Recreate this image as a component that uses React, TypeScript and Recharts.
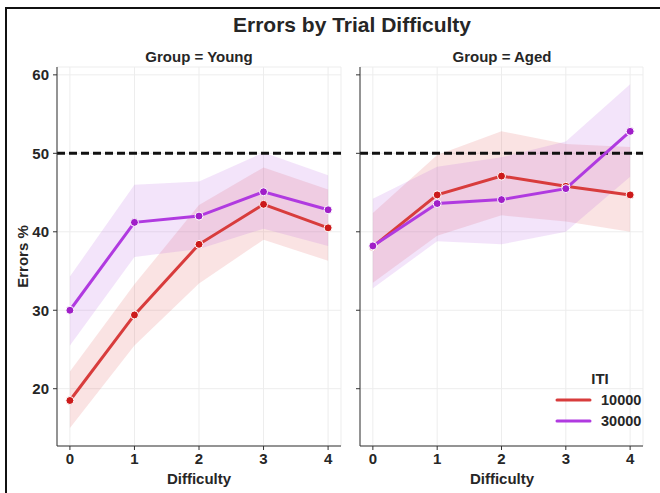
import { ComposedChart, Area, Line, XAxis, YAxis, CartesianGrid, ReferenceLine } from 'recharts';

// x categories and y ticks
const difficulty = [0, 1, 2, 3, 4];
const yTicks = [20, 30, 40, 50, 60];
const chance = 50;

// Group = Young
const youngRed = [18.5, 29.4, 38.4, 43.5, 40.5];
const youngRedLow = [15.0, 25.5, 33.4, 39.0, 36.3];
const youngRedHigh = [22.2, 33.3, 43.4, 48.2, 45.4];
const youngPurple = [30.0, 41.2, 42.0, 45.1, 42.8];
const youngPurpleLow = [25.5, 36.8, 37.8, 40.4, 38.2];
const youngPurpleHigh = [34.3, 46.0, 46.4, 50.1, 47.2];

// Group = Aged
const agedRed = [38.1, 44.7, 47.1, 45.8, 44.7];
const agedRedLow = [33.5, 39.5, 42.1, 41.3, 40.0];
const agedRedHigh = [42.4, 49.8, 52.8, 51.2, 50.8];
const agedPurple = [38.2, 43.6, 44.1, 45.5, 52.8];
const agedPurpleLow = [32.8, 38.8, 38.4, 40.0, 47.0];
const agedPurpleHigh = [44.2, 48.3, 49.5, 51.5, 58.8];

const RED = '#d83c3c';
const RED_DOT = '#cc1a1a';
const PURPLE = '#b03ae0';
const PURPLE_DOT = '#a01ec8';
const FONT = '"Liberation Sans", Arial, sans-serif';
const TEXT = '#262626';

function buildRows(
    red: number[], redLow: number[], redHigh: number[],
    purple: number[], purpleLow: number[], purpleHigh: number[]
) {
    return difficulty.map((d, i) => ({
        difficulty: d,
        red: red[i],
        redBand: [redLow[i], redHigh[i]],
        purple: purple[i],
        purpleBand: [purpleLow[i], purpleHigh[i]],
    }));
}

const youngRows = buildRows(youngRed, youngRedLow, youngRedHigh, youngPurple, youngPurpleLow, youngPurpleHigh);
const agedRows = buildRows(agedRed, agedRedLow, agedRedHigh, agedPurple, agedPurpleLow, agedPurpleHigh);

interface PanelProps {
    rows: ReturnType<typeof buildRows>;
    left: number;
    width: number;
    margin: { top: number; right: number; bottom: number; left: number };
    yWidth: number;
    showYLabels: boolean;
}

function Panel({ rows, left, width, margin, yWidth, showYLabels }: PanelProps) {
    const tickStyle = { fill: TEXT, fontSize: 15, fontWeight: 700, fontFamily: FONT };
    return (
        <div style={{ position: 'absolute', left, top: 0 }}>
            <ComposedChart width={width} height={493} data={rows} margin={margin}>
                <CartesianGrid stroke="#ededed" strokeWidth={1} />
                <XAxis
                    dataKey="difficulty"
                    type="number"
                    domain={[-0.2, 4.2]}
                    ticks={difficulty}
                    allowDataOverflow
                    height={30}
                    stroke="#333"
                    tickSize={4}
                    tickMargin={3}
                    tick={tickStyle}
                />
                <YAxis
                    type="number"
                    domain={[12.7, 61]}
                    ticks={yTicks}
                    allowDataOverflow
                    width={yWidth}
                    stroke="#333"
                    tickSize={4}
                    tickMargin={4}
                    tick={tickStyle}
                    tickFormatter={(v) => (showYLabels ? String(v) : '')}
                />
                <Area
                    type="linear"
                    dataKey="redBand"
                    stroke="none"
                    fill="#e05a5a"
                    fillOpacity={0.17}
                    isAnimationActive={false}
                    activeDot={false}
                />
                <Area
                    type="linear"
                    dataKey="purpleBand"
                    stroke="none"
                    fill="#b860e0"
                    fillOpacity={0.17}
                    isAnimationActive={false}
                    activeDot={false}
                />
                <ReferenceLine y={chance} stroke="#111" strokeWidth={3} strokeDasharray="8 4" />
                <Line
                    type="linear"
                    dataKey="red"
                    stroke={RED}
                    strokeWidth={3}
                    dot={{ r: 4, fill: RED_DOT, stroke: '#fff', strokeWidth: 1 }}
                    isAnimationActive={false}
                />
                <Line
                    type="linear"
                    dataKey="purple"
                    stroke={PURPLE}
                    strokeWidth={3}
                    dot={{ r: 4, fill: PURPLE_DOT, stroke: '#fff', strokeWidth: 1 }}
                    isAnimationActive={false}
                />
            </ComposedChart>
        </div>
    );
}

function text(content: string, x: number, y: number, size: number, extra: React.CSSProperties = {}) {
    return (
        <div
            style={{
                position: 'absolute',
                left: x - 150,
                top: y - size / 2,
                width: 300,
                textAlign: 'center',
                fontSize: size,
                lineHeight: `${size}px`,
                fontWeight: 700,
                fontFamily: FONT,
                color: TEXT,
                whiteSpace: 'nowrap',
                ...extra,
            }}
        >
            {content}
        </div>
    );
}

export default function App() {
    return (
        <div
            style={{
                position: 'absolute',
                left: 0,
                top: 0,
                width: 660,
                height: 493,
                overflow: 'hidden',
                background: '#fff',
            }}
        >
            {/* frame */}
            <div
                style={{
                    position: 'absolute',
                    left: 5,
                    top: 7,
                    width: 700,
                    height: 600,
                    border: '2.5px solid #111',
                }}
            />
            <Panel
                rows={youngRows}
                left={0}
                width={350}
                margin={{ top: 67, right: 9, bottom: 17, left: 17 }}
                yWidth={40}
                showYLabels
            />
            <Panel
                rows={agedRows}
                left={350}
                width={310}
                margin={{ top: 67, right: 17, bottom: 17, left: 0 }}
                yWidth={10}
                showYLabels={false}
            />
            {text('Errors by Trial Difficulty', 352, 24, 21)}
            {text('Group = Young', 199, 56, 15)}
            {text('Group = Aged', 502, 56, 15)}
            {text('Difficulty', 199, 478, 15)}
            {text('Difficulty', 502, 478, 15)}
            {text('Errors %', 22, 256, 15, { transform: 'rotate(-90deg)' })}

            {/* legend */}
            {text('ITI', 600, 378, 15)}
            <svg style={{ position: 'absolute', left: 555, top: 392 }} width={40} height={36}>
                <line x1={2} x2={35} y1={8} y2={8} stroke={RED} strokeWidth={3} strokeLinecap="round" />
                <line x1={2} x2={35} y1={29} y2={29} stroke={PURPLE} strokeWidth={3} strokeLinecap="round" />
            </svg>
            <div
                style={{
                    position: 'absolute',
                    left: 601,
                    top: 392,
                    fontSize: 14.5,
                    lineHeight: '16px',
                    fontWeight: 700,
                    fontFamily: FONT,
                    color: TEXT,
                }}
            >
                <div>10000</div>
                <div style={{ marginTop: 5 }}>30000</div>
            </div>
        </div>
    );
}
